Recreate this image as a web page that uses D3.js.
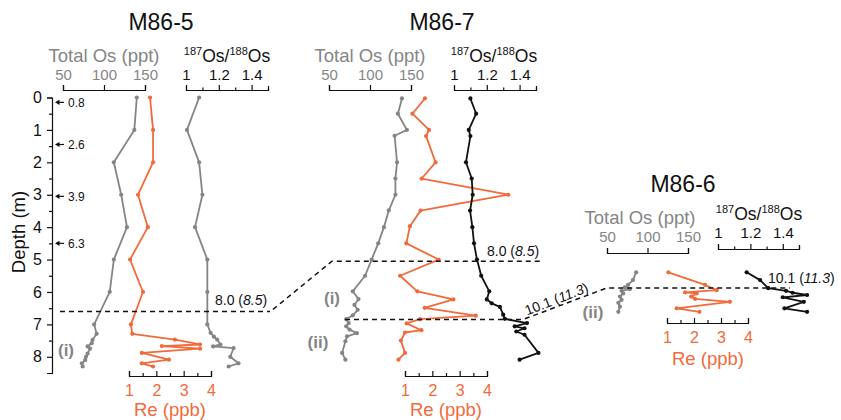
<!DOCTYPE html>
<html><head><meta charset="utf-8">
<script src="https://cdn.jsdelivr.net/npm/d3@7"></script>
<style>
body{margin:0;background:#fff;}
svg{display:block;font-family:"Liberation Sans",Arial,Helvetica,sans-serif;}
</style></head><body>
<svg id="c" width="841" height="420"></svg>
<script>
// ---------- tick labels / axis values ----------
const depthTicks=[0,1,2,3,4,5,6,7,8];
const depthMinor=[0.5,1.5,2.5,3.5,4.5,5.5,6.5,7.5];
const osTicks=[50,100,150];
const ratioTicks=[1,1.2,1.4];
const ratioMinor=[1.1,1.3,1.5];
const reTicks=[1,2,3,4];
const reMinor=[1.5,2.5,3.5];
const arrowDepths=[0.15,1.45,3.05,4.5];
const arrowLabels=["0.8","2.6","3.9","6.3"];

// ---------- M86-5 ----------
const m5OsDepth=[0,1,2,3,4,5,6,7,7.29,7.48,7.58,7.68,7.75,7.9,8.0,8.1,8.2,8.3];
const m5OsVal=[140,137,112,121,128,112,107,88,91,86,85,80,83,80,78,77,73,74];
const m5ReDepth=[0,1,2,3,4,5,6,7,7.29,7.47,7.62,7.67,7.75,7.88,8.09,8.2,8.3];
const m5ReVal=[1.77,1.88,1.88,1.33,1.69,1.04,1.51,1.07,1.12,2.68,3.6,2.2,3.6,1.47,2.46,1.47,1.88];
const m5RatioDepth=[0,1,2,3,4,5,6,7,7.26,7.38,7.47,7.62,7.68,7.73,8.0,8.2,8.3];
const m5RatioVal=[1.08,1.006,1.08,1.10,1.055,1.13,1.13,1.13,1.15,1.17,1.19,1.21,1.165,1.29,1.27,1.32,1.26];

// ---------- M86-7 ----------
const m7OsDepth=[0.03,0.5,1.0,1.18,2.0,2.5,3.0,3.48,4.0,4.5,5.0,5.5,5.98,6.22,6.4,6.55,6.72,6.84,6.96,7.06,7.16,7.27,7.37,7.52,7.88,8.09];
const m7OsVal=[139,134,145,130,133,131,131,123,117,110,102,94,79,86,81,85,79,71,74,71,75,84,72,70,66,70];
const m7ReDepth=[0.03,0.5,1.0,1.19,2.0,2.5,3.0,3.49,3.97,4.5,5.0,5.5,5.98,6.23,6.49,6.73,6.84,6.97,7.18,7.25,7.5,7.88,8.09];
const m7ReVal=[1.73,1.27,1.88,1.77,2.12,1.61,4.78,1.57,1.18,1.05,2.23,0.82,1.45,2.77,1.72,3.59,1.55,1.06,1.6,1.0,0.85,1.0,0.76];
const m7RatioDepth=[0.03,0.5,1.0,1.19,2.0,2.5,3.0,3.49,4.0,4.5,5.0,5.5,5.98,6.23,6.35,6.46,6.7,6.83,6.96,7.06,7.12,7.22,7.32,7.88,8.09];
const m7RatioVal=[1.10,1.135,1.09,1.10,1.073,1.108,1.114,1.098,1.112,1.122,1.14,1.166,1.215,1.20,1.23,1.28,1.30,1.31,1.445,1.37,1.43,1.38,1.43,1.515,1.40];

// ---------- M86-6 (relative depth) ----------
const m6OsDepth=[0.01,0.25,0.4,0.47,0.53,0.58,0.66,0.76,0.86,0.95,1.07,1.23];
const m6OsVal=[86,82,76,72,78,68,70,66,68,64,66,64];
const m6ReDepth=[0.01,0.4,0.56,0.63,0.66,0.76,0.83,0.92,1.12,1.23];
const m6ReVal=[1.05,2.41,2.84,1.67,2.1,1.9,2.04,3.33,1.36,2.2];
const m6RatioDepth=[0.01,0.25,0.5,0.58,0.64,0.71,0.78,0.92,1.12,1.23];
const m6RatioVal=[1.177,1.26,1.31,1.42,1.46,1.55,1.40,1.53,1.41,1.55];

// ---------- styling ----------
const GRAY="#858585", ORANGE="#f26a3b", BLACK="#111";
const svg=d3.select("#c");

// scales
const y5=d3.scaleLinear().domain([0,8.5]).range([97.5,373]);
const y7=y5;
const y6=d3.scaleLinear().domain([0,1]).range([272,304.4]);

const panels=[
 {name:"M86-5",tx:161,ty:30,y:y5,
  os:d3.scaleLinear().domain([50,150]).range([63,145]),osY:90,osTitle:[104,62],osLabGap:5,
  ra:d3.scaleLinear().domain([1,1.5]).range([186,268]),raY:90,raTitle:[227,62],
  re:d3.scaleLinear().domain([1,4]).range([129,211]),reY:376,reTitle:[170,416],
  raColor:GRAY,
  osD:m5OsDepth,osV:m5OsVal,reD:m5ReDepth,reV:m5ReVal,raD:m5RatioDepth,raV:m5RatioVal},
 {name:"M86-7",tx:442,ty:30,y:y7,
  os:d3.scaleLinear().domain([50,150]).range([329,411]),osY:90,osTitle:[370,62],osLabGap:5,
  ra:d3.scaleLinear().domain([1,1.5]).range([454,536]),raY:90,raTitle:[494,62],
  re:d3.scaleLinear().domain([1,4]).range([405,487]),reY:376,reTitle:[446,416],
  raColor:BLACK,
  osD:m7OsDepth,osV:m7OsVal,reD:m7ReDepth,reV:m7ReVal,raD:m7RatioDepth,raV:m7RatioVal},
 {name:"M86-6",tx:683,ty:192,y:y6,
  os:d3.scaleLinear().domain([50,150]).range([607,688]),osY:253,osTitle:[640,224],osLabGap:6,
  ra:d3.scaleLinear().domain([1,1.5]).range([718,799]),raY:249,raTitle:[759,220],
  re:d3.scaleLinear().domain([1,4]).range([667,748]),reY:323,reTitle:[708,365],
  raColor:BLACK,
  osD:m6OsDepth,osV:m6OsVal,reD:m6ReDepth,reV:m6ReVal,raD:m6RatioDepth,raV:m6RatioVal}
];

function styleAxis(g,color,size){
  g.selectAll("path,line").attr("stroke","#111").attr("stroke-width",1.2);
  g.selectAll("text").attr("fill",color).attr("font-size",size).attr("font-family","Liberation Sans,Arial,sans-serif");
}

function series(p,depths,vals,xs,color){
  const data=d3.zip(depths,vals);
  const line=d3.line().x(d=>xs(d[1])).y(d=>p.y(d[0]));
  svg.append("path").datum(data).attr("d",line).attr("fill","none")
    .attr("stroke",color).attr("stroke-width",1.8).attr("stroke-linejoin","round");
  svg.append("g").selectAll("circle").data(data).join("circle")
    .attr("cx",d=>xs(d[1])).attr("cy",d=>p.y(d[0])).attr("r",2.1).attr("fill",color);
}

panels.forEach(p=>{
  // title
  svg.append("text").attr("x",p.tx).attr("y",p.ty).attr("text-anchor","middle")
    .attr("font-size",23).attr("fill","#111").text(p.name);
  // Total Os axis
  const ga=svg.append("g").attr("transform",`translate(0,${p.osY})`)
    .call(d3.axisTop(p.os).tickValues(osTicks).tickSize(5).tickSizeOuter(5).tickPadding(p.osLabGap));
  styleAxis(ga,GRAY,15);
  svg.append("text").attr("x",p.osTitle[0]).attr("y",p.osTitle[1]).attr("text-anchor","middle")
    .attr("font-size",18.5).attr("fill",GRAY).text("Total Os (ppt)");
  // ratio axis
  const gb=svg.append("g").attr("transform",`translate(0,${p.raY})`)
    .call(d3.axisTop(p.ra).tickValues(ratioTicks).tickSize(5).tickSizeOuter(4).tickPadding(p.osLabGap).tickFormat(d3.format("")));
  styleAxis(gb,"#111",15);
  const gbm=svg.append("g").attr("transform",`translate(0,${p.raY})`)
    .call(d3.axisTop(p.ra).tickValues(ratioMinor).tickSize(2.5).tickFormat(""));
  gbm.select(".domain").remove(); styleAxis(gbm,"#111",15);
  const rt=svg.append("text").attr("x",p.raTitle[0]).attr("y",p.raTitle[1]).attr("text-anchor","middle")
    .attr("font-size",17.5).attr("fill","#111");
  rt.append("tspan").attr("font-size",11).attr("dy",-7).text("187");
  rt.append("tspan").attr("dy",7).text("Os/");
  rt.append("tspan").attr("font-size",11).attr("dy",-7).text("188");
  rt.append("tspan").attr("dy",7).text("Os");
  // Re axis
  const gc=svg.append("g").attr("transform",`translate(0,${p.reY})`)
    .call(d3.axisBottom(p.re).tickValues(reTicks).tickSizeInner(-5).tickSizeOuter(-5).tickPadding(9).tickFormat(d3.format("d")));
  styleAxis(gc,ORANGE,16);
  const gcm=svg.append("g").attr("transform",`translate(0,${p.reY})`)
    .call(d3.axisBottom(p.re).tickValues(reMinor).tickSize(-3).tickFormat(""));
  gcm.select(".domain").remove(); styleAxis(gcm,ORANGE,16);
  svg.append("text").attr("x",p.reTitle[0]).attr("y",p.reTitle[1]).attr("text-anchor","middle")
    .attr("font-size",18.5).attr("fill",ORANGE).text("Re (ppb)");
  // series
  series(p,p.osD,p.osV,p.os,GRAY);
  series(p,p.reD,p.reV,p.re,ORANGE);
  series(p,p.raD,p.raV,p.ra,p.raColor);
});

// depth axis (M86-5)
const gd=svg.append("g").attr("transform","translate(52,0)")
  .call(d3.axisLeft(y5).tickValues(depthTicks).tickSize(5).tickSizeOuter(5).tickPadding(5));
styleAxis(gd,"#111",16);
const gdm=svg.append("g").attr("transform","translate(52,0)")
  .call(d3.axisLeft(y5).tickValues(depthMinor).tickSize(3).tickFormat(""));
gdm.select(".domain").remove(); styleAxis(gdm,"#111",16);
svg.append("text").attr("transform","translate(25,232) rotate(-90)").attr("text-anchor","middle")
  .attr("font-size",18.5).attr("fill","#111").text("Depth (m)");

// arrows with labels
arrowDepths.forEach((d,i)=>{
  const yy=y5(d);
  svg.append("line").attr("x1",58).attr("x2",64).attr("y1",yy).attr("y2",yy).attr("stroke","#111").attr("stroke-width",1.2);
  svg.append("path").attr("d",`M55,${yy}L59.5,${yy-2.6}L59.5,${yy+2.6}Z`).attr("fill","#111");
  svg.append("text").attr("x",68).attr("y",yy).attr("dy","0.36em").attr("font-size",12).attr("fill","#111").text(arrowLabels[i]);
});

// unit labels (i), (ii)
[[66,y5(7.8),"(i)"],[332,y7(6.2),"(i)"],[318,y7(7.55),"(ii)"],[593,y6(1.23),"(ii)"]].forEach(l=>{
  svg.append("text").attr("x",l[0]).attr("y",l[1]).attr("dy","0.35em").attr("text-anchor","middle")
    .attr("font-size",17).attr("font-weight","bold").attr("fill",GRAY).text(l[2]);
});

// correlation dashed lines
const dline=d3.line();
const dashA=[[60,y5(6.6)],[270,y5(6.6)]];
const dashA2=[[273,y5(6.6)-2],[332,y7(5.05)],[543,y7(5.05)]];
const dashB=[[345,y7(6.85)],[523,y7(6.85)],[607,y6(0.49)],[790,y6(0.49)]];
[dashA,dashA2,dashB].forEach(pts=>{
  svg.append("path").attr("d",dline(pts)).attr("fill","none").attr("stroke","#111")
    .attr("stroke-width",1.5).attr("stroke-dasharray","5,4");
});

function ageLabel(x,y,a,b,rot){
  const t=svg.append("text").attr("font-size",14).attr("fill","#111")
    .attr("transform",`translate(${x},${y}) rotate(${rot||0})`);
  t.append("tspan").text(a+" (");
  t.append("tspan").attr("font-style","italic").text(b);
  t.append("tspan").text(")");
}
ageLabel(215,y5(6.6)-6,"8.0","8.5");
ageLabel(487,y7(5.05)-5,"8.0","8.5");
ageLabel(768,y6(0.49)-5,"10.1","11.3");
ageLabel(527,y7(6.85)-4,"10.1","11.3",-21);
</script>
</body></html>
